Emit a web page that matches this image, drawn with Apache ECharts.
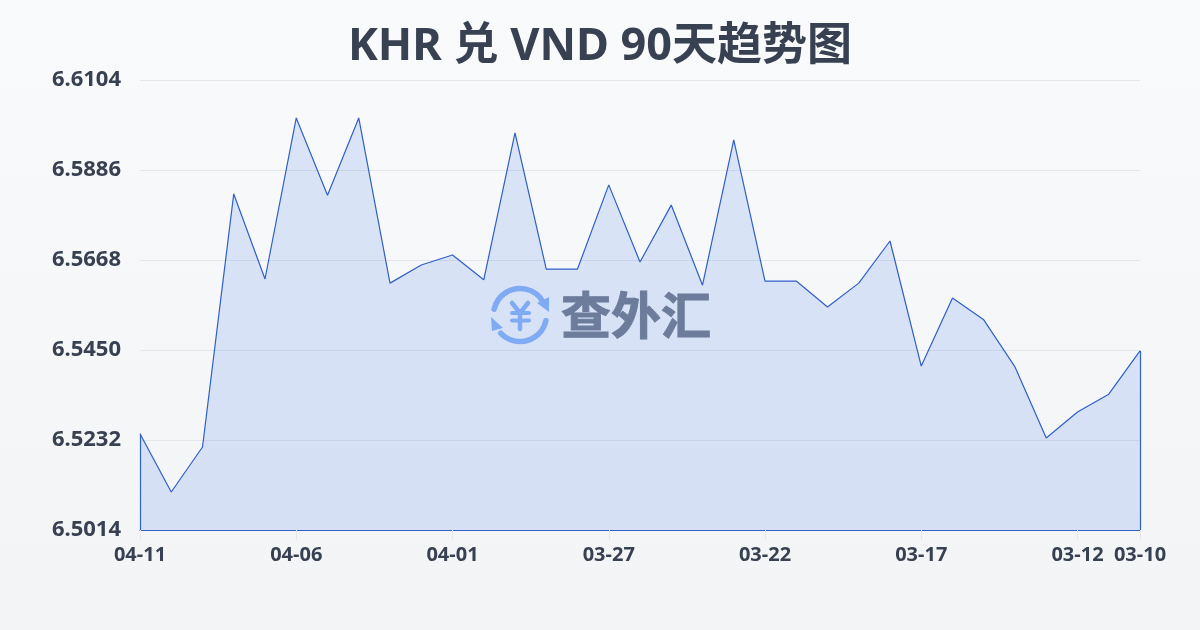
<!DOCTYPE html>
<html><head><meta charset="utf-8">
<style>html,body{margin:0;padding:0;background:#f5f7fa}#c{width:1200px;height:630px}</style>
<script src="https://cdn.jsdelivr.net/npm/echarts@6/dist/echarts.min.js"></script>
</head><body><div id="c"></div>
<script>
const titleText = 'KHR 兑 VND 90天趋势图';
const dates = ['04-11','04-10','04-09','04-08','04-07','04-06','04-05','04-04','04-03','04-02','04-01','03-31','03-30','03-29','03-28','03-27','03-26','03-25','03-24','03-23','03-22','03-21','03-20','03-19','03-18','03-17','03-16','03-15','03-14','03-13','03-12','03-11','03-10'];
const rates = [6.5247,6.5106,6.5215,6.5828,6.5622,6.6012,6.5825,6.6012,6.5612,6.5656,6.5680,6.5620,6.5976,6.5646,6.5646,6.5850,6.5663,6.5801,6.5607,6.5959,6.5617,6.5617,6.5554,6.5612,6.5714,6.5411,6.5576,6.5523,6.5409,6.5237,6.5300,6.5343,6.5448];
const yTicks = [6.5014,6.5232,6.5450,6.5668,6.5886,6.6104];
const xShown = ['04-11','04-06','04-01','03-27','03-22','03-17','03-12','03-10'];
const font = '"Noto Sans","Noto Sans CJK SC",sans-serif';
const blue = '#2f5fc8';
const showIdx = i => xShown.includes(dates[i]);
const first = dates[0], last = dates[dates.length-1];
const chart = echarts.init(document.getElementById('c'), null, {renderer:'canvas'});
const wm = '#8fb6f6';
const stroke = (w) => ({stroke:wm, lineWidth:w, lineCap:'round', lineJoin:'round', fill:null});
chart.setOption({
  animation:false,
  backgroundColor:{type:'linear',x:0,y:0,x2:0,y2:1,colorStops:[{offset:0,color:'#f9fafb'},{offset:1,color:'#f3f4f6'}]},
  title:{text:titleText,left:'center',top:20,textStyle:{fontFamily:font,fontSize:45,fontWeight:'bold',color:'#374151'}},
  grid:{left:140,right:60,top:80,bottom:100,containLabel:false},
  xAxis:{type:'category',data:dates,boundaryGap:false,
    axisLine:{show:true,lineStyle:{color:blue,width:1.2}},
    axisTick:{show:true,length:10,interval:showIdx,lineStyle:{color:'#e5e7eb'}},
    axisLabel:{interval:showIdx,margin:15,fontFamily:font,fontSize:20,fontWeight:'bold',color:'#374151',hideOverlap:false,showMinLabel:true,showMaxLabel:true},
    splitLine:{show:false}},
  yAxis:{type:'value',min:yTicks[0],max:yTicks[yTicks.length-1],
    axisLine:{show:false},
    axisTick:{show:false,customValues:yTicks},
    axisLabel:{customValues:yTicks,margin:19,fontFamily:font,fontSize:22,fontWeight:'bold',color:'#374151',formatter:v=>v.toFixed(4)},
    splitLine:{show:true,lineStyle:{color:'#e5e7eb',width:1}}},
  series:[{type:'line',data:rates,symbol:'none',smooth:false,
    lineStyle:{color:blue,width:1.2},
    areaStyle:{color:'rgba(37,99,235,0.14)',opacity:1,origin:'start'},
    markLine:{silent:true,symbol:'none',label:{show:false},animation:false,
      lineStyle:{color:blue,width:1.2,type:'solid'},
      data:[
        [{coord:[first,yTicks[0]]},{coord:[first,rates[0]]}],
        [{coord:[last,yTicks[0]]},{coord:[last,rates[rates.length-1]]}]
      ]}
  }],
  graphic:[{type:'group',z:100,children:[
    {type:'arc',shape:{cx:520,cy:315,r:26.5,startAngle:Math.PI*1.07,endAngle:Math.PI*1.84,clockwise:true},style:stroke(5.5)},
    {type:'arc',shape:{cx:520,cy:315,r:26.5,startAngle:Math.PI*0.07,endAngle:Math.PI*0.76,clockwise:true},style:stroke(5.5)},
    {type:'polygon',shape:{points:[[537,303],[549,297],[549,312]]},style:{fill:wm}},
    {type:'polygon',shape:{points:[[491,317],[503,328],[492,331]]},style:{fill:wm}},
    {type:'polyline',shape:{points:[[512,303],[520,313],[528,303]]},style:stroke(4.5)},
    {type:'polyline',shape:{points:[[512,313],[529,313]]},style:stroke(4)},
    {type:'polyline',shape:{points:[[512,320.5],[529,320.5]]},style:stroke(4)},
    {type:'polyline',shape:{points:[[520,313],[520,329]]},style:stroke(4.5)},
    {type:'text',style:{x:561,y:315,text:'查外汇',fill:'#7b818f',stroke:'#7b818f',lineWidth:1,fontSize:50,fontWeight:'bold',fontFamily:'"Noto Sans CJK SC"',textVerticalAlign:'middle',textAlign:'left'}}
  ]}]
});
</script></body></html>
